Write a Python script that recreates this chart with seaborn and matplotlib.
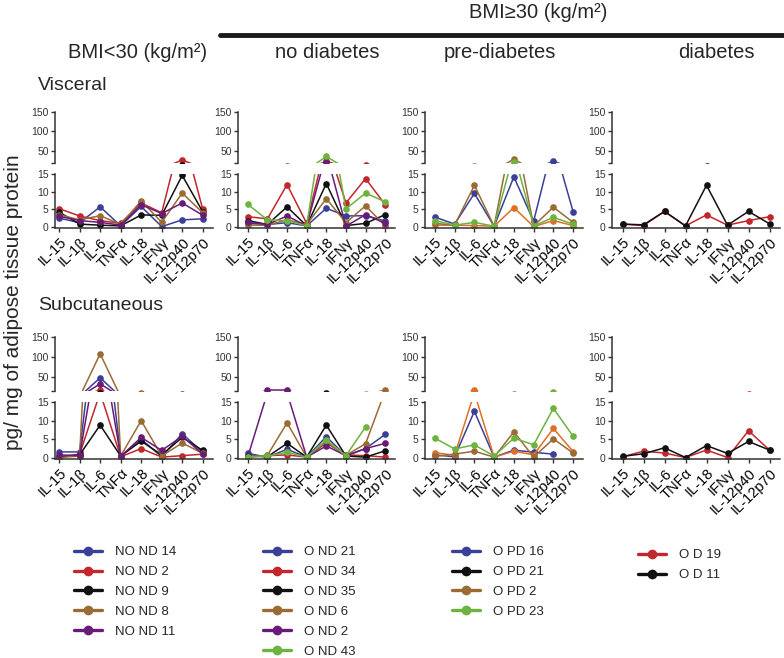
import numpy as np
import pandas as pd
import seaborn as sns
import matplotlib.pyplot as plt
from matplotlib.lines import Line2D

cytokines = ["IL-15", "IL-1β", "IL-6", "TNFα", "IL-18", "IFNγ", "IL-12p40", "IL-12p70"]

# subjects per group and their line colours
no_nd_ids = ["NO ND 14", "NO ND 2", "NO ND 9", "NO ND 8", "NO ND 11"]
o_nd_ids = ["O ND 21", "O ND 34", "O ND 35", "O ND 6", "O ND 2", "O ND 43"]
o_pd_ids = ["O PD 16", "O PD 21", "O PD 2", "O PD 23"]
o_d_ids = ["O D 19", "O D 11"]

blue, red, black, brown = "#3b3f97", "#c1272d", "#111111", "#9a6b34"
purple, green, orange = "#6a1b78", "#6cb33f", "#de6f26"
no_nd_colors = [blue, red, black, brown, purple]
o_nd_colors = [blue, red, black, brown, purple, green]
o_pd_colors = [blue, black, brown, green]
o_pd_line_colors = [blue, orange, brown, green]   # plotted colour differs from key
o_d_colors = [red, black]

# pg / mg of adipose tissue protein, one row per subject
vis_no_nd = [[2.5, 1.2, 5.7, 0.3, 5.8, 0.1, 2.0, 2.3],
             [5.2, 3.1, 1.8, 1.0, 6.8, 4.0, 27, 5.0],
             [4.2, 0.8, 0.5, 0.3, 3.4, 3.3, 14.6, 4.3],
             [3.5, 2.0, 3.2, 0.7, 7.4, 1.3, 9.6, 4.0],
             [3.0, 1.8, 1.3, 0.5, 6.3, 3.8, 6.8, 3.3]]
vis_o_nd = [[1.0, 0.7, 1.2, 0.3, 5.3, 3.1, 3.2, 1.7],
            [2.9, 2.3, 12.0, 1.0, 24, 6.8, 13.7, 6.3],
            [1.8, 0.7, 5.7, 0.3, 12.3, 0.4, 1.0, 3.5],
            [0.5, 0.5, 2.0, 0.7, 8.0, 1.2, 6.0, 0.3],
            [1.3, 0.7, 3.1, 0.3, 21, 0.2, 3.5, 1.0],
            [6.4, 2.0, 1.8, 0.3, 36, 5.1, 9.6, 7.1]]
vis_o_pd = [[2.8, 0.8, 9.5, 0.2, 14.2, 1.6, 24, 4.3],
            [0.5, 0.5, 0.4, 0.2, 5.5, 0.1, 1.8, 0.4],
            [1.0, 0.5, 11.8, 0.2, 29, 0.3, 5.6, 1.3],
            [1.8, 0.5, 1.3, 0.2, 21, 0.3, 2.7, 0.8]]
vis_o_d = [[0.8, 0.4, 4.4, 0.3, 3.4, 0.5, 1.8, 2.9],
           [0.8, 0.6, 4.4, 0.3, 11.8, 0.5, 4.4, 0.9]]

sub_no_nd = [[1.6, 1.6, 48, 0.5, 5.0, 0.3, 6.5, 1.5],
             [0.3, 1.0, 17.5, 0.3, 2.5, 0.2, 0.6, 1.0],
             [0.2, 0.8, 8.8, 0.5, 4.5, 0.8, 5.5, 2.0],
             [0.1, 0.5, 108, 0.5, 10.0, 0.5, 4.0, 1.2],
             [0.8, 0.6, 33, 0.4, 5.5, 2.0, 5.8, 1.0]]
sub_o_nd = [[1.2, 0.2, 2.3, 0.2, 5.7, 0.5, 2.5, 6.3],
            [0.2, 0.6, 0.8, 0.2, 4.0, 0.8, 0.6, 0.2],
            [0.5, 0.3, 3.9, 0.2, 8.8, 0.5, 0.2, 1.9],
            [0.2, 0.7, 9.4, 0.2, 4.3, 0.7, 3.8, 18],
            [0.3, 17.5, 17.5, 0.2, 3.2, 0.6, 2.5, 3.9],
            [0.3, 0.5, 1.5, 0.2, 4.8, 0.6, 8.3, np.nan]]
sub_o_pd = [[0.8, 0.3, 12.5, 0.2, 2.1, 1.5, 1.0, np.nan],
            [1.4, 0.7, 17.5, 0.2, 1.8, 0.8, 7.9, 1.7],
            [0.4, 1.0, 1.8, 0.2, 7.0, 0.2, 5.1, 1.3],
            [5.3, 2.4, 3.5, 0.5, 5.3, 3.5, 13.3, 5.8]]
sub_o_d = [[0.3, 1.8, 1.3, 0.1, 2.1, 0.1, 7.3, 2.1],
           [0.4, 1.1, 2.7, 0.1, 3.3, 1.2, 4.4, 2.1]]

sns.set_style("ticks")
plt.rcParams["font.family"] = ["Liberation Sans", "DejaVu Sans"]

W, H = 784, 658
fig = plt.figure(figsize=(W / 100, H / 100), dpi=100)


def box(left, top, width, height):
    return [left / W, 1 - (top + height) / H, width / W, height / H]


# column geometry in pixels: (left, width, xlim)
columns = [(55, 158, (-0.2, 7.5)), (238, 157, (-0.5, 7.5)),
           (425, 158, (-0.5, 7.5)), (612, 168, (-0.5, 7.5))]
# row geometry: top sub-axis (top, bottom, ylim) and lower sub-axis
rows = [((112, 163, (19, 150)), (174, 228, (-0.3, 15))),
        ((337, 391, (15, 150)), (402, 459, (-0.3, 15)))]

panels = [
    [(vis_no_nd, no_nd_ids, no_nd_colors), (vis_o_nd, o_nd_ids, o_nd_colors),
     (vis_o_pd, o_pd_ids, o_pd_line_colors), (vis_o_d, o_d_ids, o_d_colors)],
    [(sub_no_nd, no_nd_ids, no_nd_colors), (sub_o_nd, o_nd_ids, o_nd_colors),
     (sub_o_pd, o_pd_ids, o_pd_line_colors), (sub_o_d, o_d_ids, o_d_colors)],
]

spine_c = "#333333"
for r, (top_geo, bot_geo) in enumerate(rows):
    for c, (left, width, xlim) in enumerate(columns):
        values, ids, colors = panels[r][c]
        df = pd.DataFrame(values, index=ids, columns=cytokines)
        df = df.reset_index().melt(id_vars="index", var_name="cytokine", value_name="value")
        df = df.rename(columns={"index": "subject"})
        df["pos"] = df["cytokine"].map({k: i for i, k in enumerate(cytokines)})

        ax_t = fig.add_axes(box(left, top_geo[0], width, top_geo[1] - top_geo[0]))
        ax_b = fig.add_axes(box(left, bot_geo[0], width, bot_geo[1] - bot_geo[0]))
        for ax in (ax_t, ax_b):
            sns.lineplot(data=df, x="pos", y="value", hue="subject", hue_order=ids,
                         palette=dict(zip(ids, colors)), estimator=None, errorbar=None,
                         sort=False, legend=False, marker="o", markersize=4.8,
                         markeredgewidth=0, linewidth=1.1, ax=ax)
            ax.set_xlim(*xlim)
            ax.set_xlabel("")
            ax.set_ylabel("")
            for s in ("top", "right"):
                ax.spines[s].set_visible(False)
            for s in ("left", "bottom"):
                ax.spines[s].set_linewidth(1.1)
                ax.spines[s].set_color(spine_c)
            ax.tick_params(axis="y", labelsize=7.5, length=3, width=1.0, pad=1.5,
                           colors=spine_c)

        lo, hi = top_geo[2]
        ax_t.set_ylim(lo, hi)
        ax_t.set_yticks([lo, 50, 100, 150])
        ax_t.set_yticklabels(["", "50", "100", "150"])
        ax_t.spines["bottom"].set_visible(False)
        ax_t.set_xticks([])

        ax_b.set_ylim(*bot_geo[2])
        ax_b.set_yticks([0, 5, 10, 15])
        ax_b.set_xticks(range(len(cytokines)))
        ax_b.set_xticklabels(cytokines, rotation=45, ha="right",
                             rotation_mode="anchor", fontsize=10.5)
        ax_b.tick_params(axis="x", length=3, width=1.0, pad=2, colors=spine_c,
                         labelcolor="black")

# headers
fig.text(538 / W, 1 - 13 / H, "BMI≥30 (kg/m²)", ha="center", va="center", fontsize=14.5)
fig.add_artist(Line2D([220 / W, 1.0], [1 - 35 / H, 1 - 35 / H], lw=3.5, color="#1a1a1a"))
for x, t in [(138, "BMI<30 (kg/m²)"), (327, "no diabetes"),
             (500, "pre-diabetes"), (716, "diabetes")]:
    fig.text(x / W, 1 - 53 / H, t, ha="center", va="center", fontsize=14.5)
fig.text(38 / W, 1 - 86 / H, "Visceral", ha="left", va="center", fontsize=14)
fig.text(38 / W, 1 - 306 / H, "Subcutaneous", ha="left", va="center", fontsize=14)
fig.text(14 / W, 1 - 302 / H, "pg/ mg of adipose tissue protein", rotation=90,
         ha="center", va="center", fontsize=15)

# keys
legend_groups = [(74, 546, no_nd_ids, no_nd_colors), (263, 546, o_nd_ids, o_nd_colors),
                 (452, 546, o_pd_ids, o_pd_colors), (638, 549, o_d_ids, o_d_colors)]
for x, y, ids, colors in legend_groups:
    handles = [Line2D([], [], color=col, lw=2.4, marker="o", markersize=7,
                      markeredgewidth=0) for col in colors]
    fig.legend(handles, ids, loc="upper left", bbox_to_anchor=(x / W, 1 - y / H),
               frameon=False, fontsize=9.5, handlelength=2.1, handletextpad=1.0,
               labelspacing=0.58, borderpad=0, borderaxespad=0)

plt.savefig("out.png", dpi=100)
